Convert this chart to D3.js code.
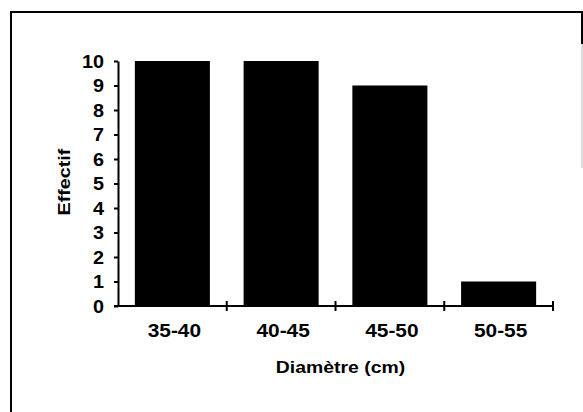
<!DOCTYPE html>
<html>
<head>
<meta charset="utf-8">
<script src="https://cdn.jsdelivr.net/npm/d3@7/dist/d3.min.js"></script>
<style>
  html, body { margin: 0; padding: 0; background: #fff; }
  svg { display: block; }
  text { font-family: "Liberation Sans", Arial, Helvetica, sans-serif; font-weight: bold; fill: #000; }
</style>
</head>
<body>
<svg id="chart" width="583" height="412"></svg>
<script>
const categories = ["35-40", "40-45", "45-50", "50-55"];
const values = [10, 10, 9, 1];
const yTicks = [0, 1, 2, 3, 4, 5, 6, 7, 8, 9, 10];
const xTitle = "Diamètre (cm)";
const yTitle = "Effectif";

(function () {
const svg = d3.select("#chart");
const W = 583, H = 412;
const mLeft = 118, mRight = 553, mTop = 61, mBottom = 306;

function widen(sel, k) {
  sel.each(function () {
    const len = this.getComputedTextLength();
    d3.select(this).attr("textLength", len * k).attr("lengthAdjust", "spacingAndGlyphs");
  });
}

// frame
svg.append("line").attr("x1", 11).attr("y1", 12).attr("x2", 11).attr("y2", H)
  .attr("stroke", "#000").attr("stroke-width", 2);
svg.append("line").attr("x1", 10).attr("y1", 12).attr("x2", 583).attr("y2", 12)
  .attr("stroke", "#000").attr("stroke-width", 2);
svg.append("line").attr("x1", 582).attr("y1", 12).attr("x2", 582).attr("y2", 44)
  .attr("stroke", "#000").attr("stroke-width", 2);
svg.append("line").attr("x1", 582).attr("y1", 44).attr("x2", 582).attr("y2", 168)
  .attr("stroke", "#bbb").attr("stroke-width", 1);

const x = d3.scaleBand().domain(categories).range([mLeft, mRight]).paddingInner(0.31).paddingOuter(0.155);
const y = d3.scaleLinear().domain([0, 10]).range([mBottom, mTop]);

// bars
svg.append("g").selectAll("rect").data(values).join("rect")
  .attr("x", (d, i) => x(categories[i]))
  .attr("width", x.bandwidth())
  .attr("y", d => y(d))
  .attr("height", d => y(0) - y(d))
  .attr("fill", "#000");

// y axis
const yAxis = svg.append("g").attr("transform", `translate(${mLeft},0)`)
  .call(d3.axisLeft(y).tickValues(yTicks).tickSize(4).tickSizeOuter(0).tickPadding(10));
yAxis.select(".domain").attr("stroke-width", 2);
yAxis.selectAll(".tick line").attr("stroke-width", 2);
const yLab = yAxis.selectAll(".tick text").attr("font-family", null).style("font-size", "18px").attr("dy", "0.36em");
widen(yLab, 1.1);

// x axis (ticks at band boundaries)
const bound = d3.scaleLinear().domain([0, categories.length]).range([mLeft, mRight]);
const boundaries = d3.range(1, categories.length + 1);
const xAxisG = svg.append("g").attr("transform", `translate(0,${mBottom})`);
xAxisG.append("line").attr("x1", mLeft - 4).attr("x2", mRight).attr("y1", 0).attr("y2", 0)
  .attr("stroke", "#000").attr("stroke-width", 2);
xAxisG.selectAll(".bt").data(boundaries).join("line").attr("class", "bt")
  .attr("x1", d => bound(d)).attr("x2", d => bound(d))
  .attr("y1", -5).attr("y2", 5)
  .attr("stroke", "#000").attr("stroke-width", 2);
const xLab = xAxisG.selectAll(".xl").data(categories).join("text").attr("class", "xl")
  .attr("x", d => x(d) + x.bandwidth() / 2 + 2)
  .attr("y", 31)
  .attr("text-anchor", "middle")
  .style("font-size", "18px")
  .text(d => d);
widen(xLab, 1.16);

// titles
const t1 = svg.append("text")
  .attr("x", (mLeft + mRight) / 2 + 5).attr("y", 373)
  .attr("text-anchor", "middle").style("font-size", "17px")
  .text(xTitle);
const t2 = svg.append("text")
  .attr("transform", `translate(70,182) rotate(-90)`)
  .attr("text-anchor", "middle").style("font-size", "17px")
  .text(yTitle);
widen(t1, 1.14);
widen(t2, 1.16);
})();
</script>
</body>
</html>
